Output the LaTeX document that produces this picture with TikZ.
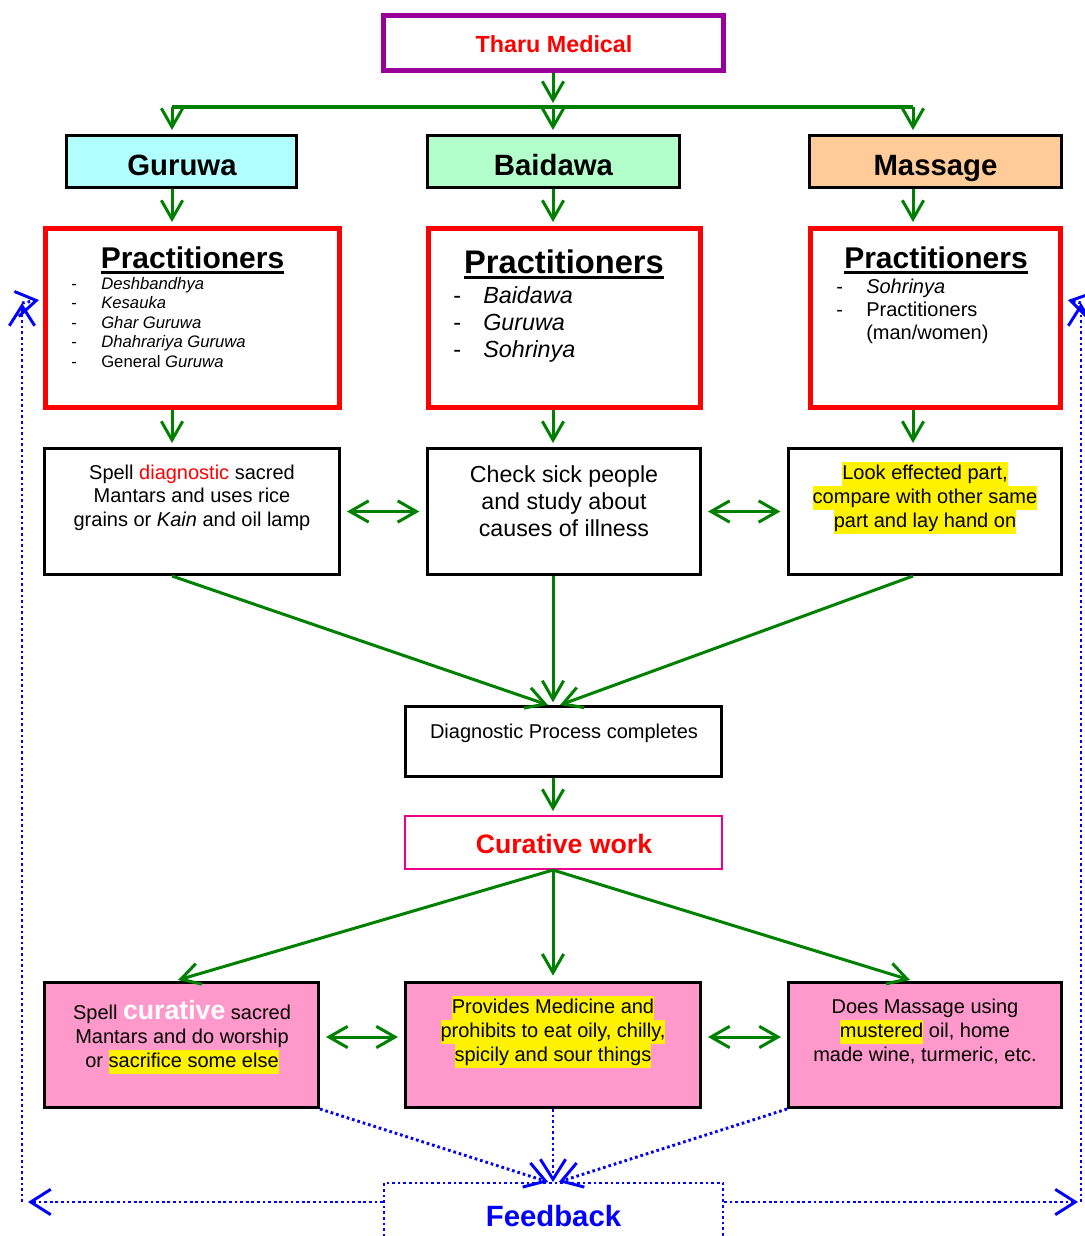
\documentclass[tikz,border=0pt]{standalone}
\usepackage{fontspec}
\setmainfont{Liberation Sans}
\usetikzlibrary{arrows.meta}
\definecolor{flowgreen}{RGB}{0,128,0}
\definecolor{topframe}{RGB}{153,0,153}
\definecolor{cyanfill}{RGB}{178,255,255}
\definecolor{mintfill}{RGB}{179,255,204}
\definecolor{peachfill}{RGB}{255,204,153}
\definecolor{pinkfill}{RGB}{255,153,204}
\newcommand{\fsz}[2]{\fontsize{#1}{#2}\selectfont}
\newcommand{\hlt}[1]{{\setlength{\fboxsep}{0pt}\colorbox{yellow}{\strut#1}}}
\newcommand{\pxu}{0.75pt}
\begin{document}
\begin{tikzpicture}[x=0.75pt,y=-0.75pt,
  gtip/.tip={Straight Barb[length=14pt,width=16pt]},
  btip/.tip={Straight Barb[length=15pt,width=19pt]},
  garrow/.style={draw=flowgreen, line width=2.25pt, -gtip},
  gdouble/.style={draw=flowgreen, line width=2.25pt, gtip-gtip},
  bdot/.style={draw=blue, line width=2.2pt, dash pattern=on 2pt off 2.2pt},
  barrow/.style={bdot, -btip},
  box/.style={draw, rectangle, inner sep=0pt},
  headbox/.style={box, line width=1.9pt, minimum height=52.5*\pxu},
  pracbox/.style={box, draw=red, line width=3.4pt, fill=white, minimum height=179.5*\pxu},
  plainbox/.style={box, line width=1.9pt, fill=white, minimum height=126.5*\pxu},
  curebox/.style={box, line width=1.9pt, fill=pinkfill, minimum height=125.5*\pxu},
  txt/.style={inner sep=0pt, align=center},
  headtxt/.style={inner sep=0pt, anchor=base, font=\fsz{22}{26}\bfseries},
  practxt/.style={inner sep=0pt, anchor=base, font=\bfseries},
  item/.style={inner sep=0pt, anchor=base west},
]
\useasboundingbox (0,0) rectangle (1085,1236);

% column guides for the vertical connectors
\coordinate (barL) at (172,107);
\coordinate (barM) at (553,107);
\coordinate (barR) at (913,107);

% ---------- top ----------
\node[box, draw=topframe, line width=3.75pt, fill=white,
      minimum width=340*\pxu, minimum height=55*\pxu] (tharu) at (553.5,43) {};
\node[inner sep=0pt, anchor=base, text=red, font=\fsz{17.5}{20}\bfseries] (tharuT) at (554,52) {Tharu Medical};

\node[headbox, fill=cyanfill, minimum width=230.5*\pxu] (guruwa) at (181.5,161.5) {};
\node[headbox, fill=mintfill, minimum width=252.5*\pxu] (baidawa) at (553.5,161.5) {};
\node[headbox, fill=peachfill, minimum width=252.5*\pxu] (massage) at (935.5,161.5) {};
\node[headtxt] (guruwaT) at (182,175) {Guruwa};
\node[headtxt] (baidawaT) at (553.5,175) {Baidawa};
\node[headtxt] (massageT) at (935.5,175) {Massage};

% ---------- practitioners ----------
\node[pracbox, minimum width=294.5*\pxu] (pracL) at (192.5,318) {};
\node[pracbox, minimum width=272.5*\pxu] (pracM) at (564.5,318) {};
\node[pracbox, minimum width=250.5*\pxu] (pracR) at (935.5,318) {};

\node[practxt, font=\fsz{22.5}{26}\bfseries] (phL) at (192.5,268) {Practitioners};
\node[practxt, font=\fsz{24.5}{28}\bfseries] (phM) at (564,273) {Practitioners};
\node[practxt, font=\fsz{22.5}{26}\bfseries] (phR) at (936,268) {Practitioners};
\foreach \h in {phL,phM,phR}
  \draw[line width=2.25pt] ([yshift=-3pt]\h.base west) -- ([yshift=-3pt]\h.base east);

\begin{scope}[font=\fsz{12.5}{15}]
  \node[item] (l1d) at (71,289) {-};   \node[item] (l1) at (101,289) {\itshape Deshbandhya};
  \node[item] (l2d) at (71,308.5) {-}; \node[item] (l2) at (101,308.5) {\itshape Kesauka};
  \node[item] (l3d) at (71,328) {-};   \node[item] (l3) at (101,328) {\itshape Ghar Guruwa};
  \node[item] (l4d) at (71,347.5) {-}; \node[item] (l4) at (101,347.5) {\itshape Dhahrariya Guruwa};
  \node[item] (l5d) at (71,367) {-};   \node[item] (l5) at (101,367) {General \textit{Guruwa}};
\end{scope}
\begin{scope}[font=\fsz{17.5}{20}]
  \node[item] (m1d) at (453,303) {-}; \node[item] (m1) at (483,303) {\itshape Baidawa};
  \node[item] (m2d) at (453,330) {-}; \node[item] (m2) at (483,330) {\itshape Guruwa};
  \node[item] (m3d) at (453,357) {-}; \node[item] (m3) at (483,357) {\itshape Sohrinya};
\end{scope}
\begin{scope}[font=\fsz{15}{17.5}]
  \node[item] (r1d) at (836,293) {-}; \node[item] (r1) at (866,293) {\itshape Sohrinya};
  \node[item] (r2d) at (836,316) {-}; \node[item] (r2) at (866,316) {Practitioners};
  \node[item] (r3) at (866,339) {(man/women)};
\end{scope}

% ---------- diagnosis row ----------
\node[plainbox, minimum width=295.5*\pxu] (diagL) at (192,511.5) {};
\node[plainbox, minimum width=273.5*\pxu] (diagM) at (564,511.5) {};
\node[plainbox, minimum width=273.5*\pxu] (diagR) at (925,511.5) {};

% multi-line texts are placed by the baseline of their last line
\node[txt, anchor=base, font=\fsz{15}{17.6}] (diagLT) at (192,526)
  {Spell \textcolor{red}{diagnostic} sacred\\Mantars and uses rice\\grains or \textit{Kain} and oil lamp};
\node[txt, anchor=base, font=\fsz{17.4}{20.25}] (diagMT) at (564,536)
  {Check sick people\\and study about\\causes of illness};
\node[txt, anchor=base, font=\fsz{15}{18}] (diagRT) at (925,527)
  {\hlt{Look effected part,}\\\hlt{compare with other same}\\\hlt{part and lay hand on}};

\node[box, line width=1.9pt, fill=white, minimum width=316.5*\pxu, minimum height=70.5*\pxu] (done) at (563.5,741.5) {};
\node[inner sep=0pt, anchor=base, font=\fsz{15}{18}] (doneT) at (564,738) {Diagnostic Process completes};

\node[box, draw=magenta, line width=1.5pt, fill=white, minimum width=317*\pxu, minimum height=53*\pxu] (cure) at (563.5,842.5) {};
\node[inner sep=0pt, anchor=base, text=red, font=\fsz{20}{24}\bfseries] (cureT) at (564,853) {Curative work};

% ---------- curative row ----------
\node[curebox, minimum width=274.5*\pxu] (cureL) at (181.5,1045) {};
\node[curebox, minimum width=295.5*\pxu] (cureM) at (553,1045) {};
\node[curebox, minimum width=273.5*\pxu] (cureR) at (925,1045) {};

\node[txt, anchor=base, font=\fsz{15}{18}] (cureLT) at (182,1067)
  {Spell {\fsz{20}{18}\bfseries\color{white}curative} sacred\\Mantars and do worship\\or \hlt{sacrifice some else}};
\node[txt, anchor=base, font=\fsz{15}{18}] (cureMT) at (553,1061)
  {\hlt{Provides Medicine and}\\\hlt{prohibits to eat oily, chilly,}\\\hlt{spicily and sour things}};
\node[txt, anchor=base, font=\fsz{15}{18}] (cureRT) at (925,1061)
  {Does Massage using\\\hlt{mustered} oil, home\\made wine, turmeric, etc.};

% ---------- feedback ----------
\node[box, bdot, line width=1.6pt, minimum width=339*\pxu, minimum height=100*\pxu] (fb) at (553.5,1233) {};
\node[inner sep=0pt, anchor=base, text=blue, font=\fsz{22}{26}\bfseries] (fbT) at (553.5,1226) {Feedback};

% ---------- green connectors ----------
\draw[garrow, shorten >=3pt] (tharu.south -| barM) -- (barM);
\draw[draw=flowgreen, line width=3pt] (barL) -- (barR);
\foreach \c/\n in {barL/guruwa, barM/baidawa, barR/massage}
  \draw[garrow, shorten >=3pt] (\c) -- (\c |- \n.north);
\foreach \c/\a/\b in {barL/guruwa/pracL, barM/baidawa/pracM, barR/massage/pracR}
  \draw[garrow, shorten >=3pt] (\c |- \a.south) -- (\c |- \b.north);
\foreach \c/\a/\b in {barL/pracL/diagL, barM/pracM/diagM, barR/pracR/diagR}
  \draw[garrow, shorten >=3pt] (\c |- \a.south) -- (\c |- \b.north);

\coordinate (inL) at (548,705);
\coordinate (inR) at (560,705);
\draw[garrow] (barL |- diagL.south) -- (inL);
\draw[garrow, shorten >=2pt] (barM |- diagM.south) -- (barM |- done.north);
\draw[garrow] (barR |- diagR.south) -- (inR);
\draw[garrow, shorten >=3pt] (barM |- done.south) -- (barM |- cure.north);

\coordinate (outL) at (178,980);
\coordinate (outR) at (910,980);
\draw[garrow] (barM |- cure.south) -- (outL);
\draw[garrow, shorten >=4pt] (barM |- cure.south) -- (barM |- cureM.north);
\draw[garrow] (barM |- cure.south) -- (outR);

\draw[gdouble, shorten <=4.5pt, shorten >=5pt] (diagL.east) -- (diagM.west);
\draw[gdouble, shorten <=4.5pt, shorten >=5pt] (diagM.east) -- (diagR.west);
\draw[gdouble, shorten <=4.5pt, shorten >=4.5pt] ([yshift=6pt]cureL.east) -- ([yshift=6pt]cureM.west);
\draw[gdouble, shorten <=4.5pt, shorten >=4.5pt] ([yshift=6pt]cureM.east) -- ([yshift=6pt]cureR.west);

% ---------- blue feedback loop ----------
\draw[barrow] (cureL.south east) -- ([xshift=-4pt]fb.north);
\draw[barrow] (cureM.south) -- (cureM.south |- fb.north);
\draw[barrow] (cureR.south west) -- ([xshift=4pt]fb.north);

\coordinate (hL) at (28,1202);
\coordinate (hR) at (1078,1202);
\coordinate (cornL) at (22,1202);
\coordinate (cornR) at (1081,1202);
\coordinate (topL) at (22,303);
\coordinate (topR) at (1081,303);
\coordinate (tipL) at (39,300);
\coordinate (tipR) at (1068,300);
\draw[barrow] (fb.west |- hL) -- (hL);
\draw[barrow] (fb.east |- hR) -- (hR);
\draw[barrow] (cornL) -- (topL);
\draw[barrow] (cornR) -- (topR);
\draw[barrow] (topL) -- (tipL);
\draw[barrow] (topR) -- (tipR);
\end{tikzpicture}
\end{document}
